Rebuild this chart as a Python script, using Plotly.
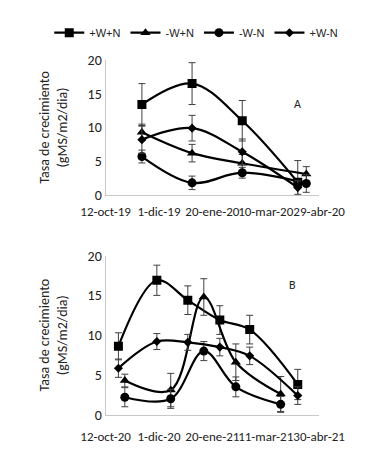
import plotly.graph_objects as go

# ---------------- data ----------------
series_names = ["+W+N", "-W+N", "-W-N", "+W-N"]

# Panel A (2019-2020)
a_dates_sq = ["2019-11-15", "2020-01-01", "2020-02-17", "2020-04-09"]
a_dates_tc = ["2019-11-15", "2020-01-01", "2020-02-17", "2020-04-17"]
a_sq = [13.4, 16.5, 11.0, 1.9]
a_sq_err = [3.1, 3.1, 3.0, 3.2]
a_tri = [9.3, 6.2, 4.7, 3.1]
a_tri_err = [1.2, 1.3, 1.3, 1.1]
a_cir = [5.7, 1.8, 3.3, 1.7]
a_cir_err = [0.95, 1.0, 0.8, 1.3]
a_dia = [8.2, 9.9, 6.4, 1.1]
a_dia_err = [2.0, 1.9, 1.9, 1.0]
a_tickvals = ["2019-10-12", "2019-12-01", "2020-01-20", "2020-03-10", "2020-04-29"]
a_ticktext = ["12-oct-19", "1-dic-19", "20-ene-20", "10-mar-20", "29-abr-20"]

# Panel B (2020-2021)
b_dates_sq = ["2020-10-24", "2020-11-29", "2020-12-28", "2021-01-27", "2021-02-24", "2021-04-10"]
b_dates_tc = ["2020-10-30", "2020-12-12", "2021-01-12", "2021-02-11", "2021-03-25"]
b_sq = [8.6, 16.9, 14.4, 11.9, 10.7, 3.8]
b_sq_err = [1.7, 1.9, 1.8, 1.8, 1.8, 1.9]
b_tri = [4.3, 3.1, 14.8, 6.6, 2.6]
b_tri_err = [0.8, 2.1, 2.3, 2.3, 2.2]
b_cir = [2.2, 2.0, 8.0, 3.5, 1.3]
b_cir_err = [1.2, 1.2, 1.2, 1.25, 1.0]
b_dia = [5.85, 9.2, 9.1, 8.5, 7.4, 2.4]
b_dia_err = [1.15, 1.0, 1.0, 1.1, 1.1, 1.1]
b_tickvals = ["2020-10-12", "2020-12-01", "2021-01-20", "2021-03-11", "2021-04-30"]
b_ticktext = ["12-oct-20", "1-dic-20", "20-ene-21", "11-mar-21", "30-abr-21"]

y_ticks = [0, 5, 10, 15, 20]

# ---------------- styles ----------------
symbols = ["square", "triangle-up", "circle", "diamond"]
msizes = [9, 9, 9, 7]
FONT = "Carlito, Lato, sans-serif"

fig = go.Figure()

panels = [
    ("x", "y", [(a_dates_sq, a_sq, a_sq_err), (a_dates_tc, a_tri, a_tri_err),
                (a_dates_tc, a_cir, a_cir_err), (a_dates_sq, a_dia, a_dia_err)]),
    ("x2", "y2", [(b_dates_sq, b_sq, b_sq_err), (b_dates_tc, b_tri, b_tri_err),
                  (b_dates_tc, b_cir, b_cir_err), (b_dates_sq, b_dia, b_dia_err)]),
]

for p, (xa, ya, data) in enumerate(panels):
    for i, (d, v, e) in enumerate(data):
        fig.add_trace(go.Scatter(
            x=d, y=v, xaxis=xa, yaxis=ya,
            name=series_names[i], showlegend=(p == 0),
            mode="lines+markers",
            line=dict(color="black", width=2.2, shape="spline", smoothing=1.0),
            marker=dict(symbol=symbols[i], size=msizes[i], color="black"),
            error_y=dict(type="data", array=e, visible=True, color="#404040",
                         thickness=1, width=3.5),
        ))

xdom = [84 / 376, 331 / 376]
axis_common = dict(showgrid=False, zeroline=False, showline=True, linecolor="#c8c8c8",
                   linewidth=1, ticks="")
xtickfont = dict(family=FONT, size=13, color="#222")
ytickfont = dict(family=FONT, size=14, color="#222")
ytitle = dict(text="Tasa de crecimiento<br>(gMS/m2/dia)",
              font=dict(family=FONT, size=14, color="#222"), standoff=16)

fig.update_layout(
    width=376, height=452,
    margin=dict(l=0, r=0, t=0, b=0),
    paper_bgcolor="white", plot_bgcolor="white",
    font=dict(family=FONT, color="#222"),
    showlegend=True,
    legend=dict(orientation="h", x=0.05, y=0.995, xanchor="left", yanchor="top",
                font=dict(family="Liberation Sans, Arial, sans-serif", size=11, color="#222"),
                itemwidth=30, tracegroupgap=0),
    xaxis=dict(domain=xdom, anchor="y", type="date",
               range=[a_tickvals[0], a_tickvals[-1]], tickfont=xtickfont,
               ticklabelstandoff=4,
               tickvals=a_tickvals, ticktext=a_ticktext, tickangle=0, **axis_common),
    yaxis=dict(domain=[1 - 186 / 452, 1 - 45.7 / 452], anchor="x", range=[0, 20],
               tickvals=y_ticks, tickfont=ytickfont, title=ytitle, **axis_common),
    xaxis2=dict(domain=xdom, anchor="y2", type="date",
                range=[b_tickvals[0], b_tickvals[-1]], tickfont=xtickfont,
                ticklabelstandoff=10,
                tickvals=b_tickvals, ticktext=b_ticktext, tickangle=0, **axis_common),
    yaxis2=dict(domain=[1 - 414.3 / 452, 1 - 249 / 452], anchor="x2", range=[0, 20],
                tickvals=y_ticks, tickfont=ytickfont, title=ytitle, **axis_common),
    annotations=[
        dict(text="A", x=312 / 376, y=1 - 82 / 452, xref="paper", yref="paper",
             showarrow=False, font=dict(family=FONT, size=12, color="#222")),
        dict(text="B", x=307 / 376, y=1 - 280 / 452, xref="paper", yref="paper",
             showarrow=False, font=dict(family=FONT, size=12, color="#222")),
    ],
)

fig.write_html("out.html")
